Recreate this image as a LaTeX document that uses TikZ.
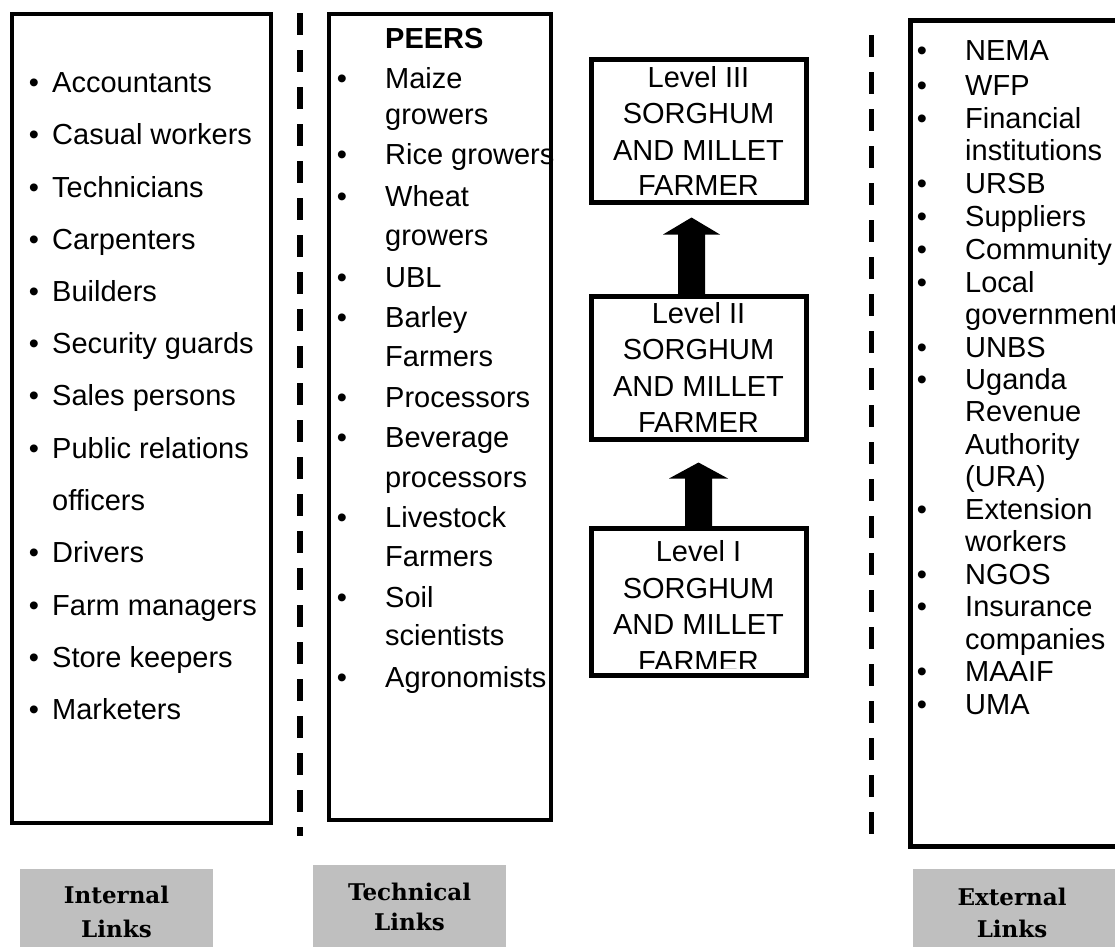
\documentclass[tikz,border=0pt]{standalone}
\usepackage{fontspec}
\setmainfont{Liberation Sans}
\newfontfamily\labfont{DejaVu Serif}
\definecolor{labgray}{HTML}{BFBFBF}
\begin{document}
\begin{tikzpicture}[x=1pt,y=-1pt,
  frame/.style={draw,line width=4pt,inner sep=0pt,fill=white},
  levelbox/.style={draw,line width=5pt,inner sep=0pt,minimum width=215pt},
  item/.style={inner sep=0pt,font=\fontsize{29}{33}\selectfont},
  labtext/.style={inner sep=0pt,anchor=base,font=\labfont\bfseries\fontsize{23}{27}\selectfont},
  labbox/.style={fill=labgray,inner sep=0pt},
  sep/.style={line width=6pt,dash pattern=on 22pt off 15pt},
  blockarrow/.style={fill=black}]
\useasboundingbox (0,0) rectangle (1115,946);
\clip (0,0) rectangle (1115,946);

% separators
\coordinate (s1a) at (300,13); \coordinate (s1b) at (300,836);
\coordinate (s2a) at (871,35); \coordinate (s2b) at (871,836);
\draw[sep] (s1a) -- (s1b);
\draw[sep,line width=5pt] (s2a) -- (s2b);

% frames
\node[frame,minimum width=259pt,minimum height=809pt] (internal) at (141.5,418.5) {};
\node[frame,minimum width=222pt,minimum height=806pt] (technical) at (440,417) {};
\node[frame,line width=5pt,minimum width=222pt,minimum height=826pt] (external) at (1021,433) {};

% internal list
\foreach \t/\y/\b [count=\i] in {Accountants/92/1, Casual workers/144/1, Technicians/197/1,
  Carpenters/249/1, Builders/301/1, Security guards/353/1, Sales persons/405/1,
  Public relations/458/1, officers/510/0, Drivers/562/1, Farm managers/615/1,
  Store keepers/667/1, Marketers/719/1}{
  \node[item,anchor=base west] (in\i) at (52,\y) {\t};
  \ifnum\b=1 \node[item,anchor=base] (inb\i) at (34,\y) {•};\fi
}

% technical list
\node[item,anchor=base west,font=\bfseries\fontsize{29}{33}\selectfont] (peers) at (385,48) {PEERS};
\foreach \t/\y/\b [count=\i] in {Maize/88/1, growers/124/0, Rice growers/164/1, Wheat/206/1,
  growers/245/0, UBL/287/1, Barley/327/1, Farmers/366/0, Processors/407/1, Beverage/447/1,
  processors/487/0, Livestock/527/1, Farmers/566/0, Soil/607/1, scientists/645/0,
  Agronomists/687/1}{
  \node[item,anchor=base west] (te\i) at (385,\y) {\t};
  \ifnum\b=1 \node[item,anchor=base] (teb\i) at (342,\y) {•};\fi
}

% external list
\foreach \t/\y/\b [count=\i] in {NEMA/60/1, WFP/95/1, Financial/128/1, institutions/160/0,
  URSB/193/1, Suppliers/226/1, Community/259/1, Local/292/1, government/324/0, UNBS/357/1,
  Uganda/389/1, Revenue/421/0, Authority/454/0, {(URA)}/486/0, Extension/519/1, workers/551/0,
  NGOS/584/1, Insurance/616/1, companies/649/0, MAAIF/681/1, UMA/714/1}{
  \node[item,anchor=base west] (ex\i) at (965,\y) {\t};
  \ifnum\b=1 \node[item,anchor=base] (exb\i) at (922,\y) {•};\fi
}

% level boxes
\node[levelbox,minimum height=143pt] (l3) at (698.5,131) {};
\node[levelbox,minimum height=143pt] (l2) at (698.5,368) {};
\node[levelbox,minimum height=147pt] (l1) at (698.5,602) {};

\foreach \t/\y [count=\i] in {Level III/87, SORGHUM/123, AND MILLET/160, FARMER/195}{
  \node[item,anchor=base] (l3t\i) at (698.5,\y) {\t};}
\foreach \t/\y [count=\i] in {Level II/323, SORGHUM/359, AND MILLET/396, FARMER/432}{
  \node[item,anchor=base] (l2t\i) at (698.5,\y) {\t};}
\begin{scope}
  \clip (592,530) rectangle (805,668);
  \foreach \t/\y [count=\i] in {Level I/561, SORGHUM/598, AND MILLET/634, FARMER/671}{
    \node[item,anchor=base] (l1t\i) at (698.5,\y) {\t};}
\end{scope}

% block arrows
\fill[blockarrow] ([xshift=-20.5pt]l2.north) |- ([xshift=-35.5pt,yshift=-29.5pt]l3.south)
  -- ([xshift=-7pt,yshift=-12.5pt]l3.south) -- ([xshift=21.5pt,yshift=-29.5pt]l3.south)
  -| ([xshift=6.5pt]l2.north) -- cycle;
\fill[blockarrow] ([xshift=-13.5pt]l1.north) |- ([xshift=-29.5pt,yshift=-36.5pt]l2.south)
  -- ([yshift=-20.5pt]l2.south) -- ([xshift=29.5pt,yshift=-36.5pt]l2.south)
  -| ([xshift=13.5pt]l1.north) -- cycle;

% bottom labels
\node[labbox,minimum width=193pt,minimum height=91pt] (gint) at (116.5,914.5) {};
\node[labbox,minimum width=193pt,minimum height=95pt] (gtech) at (409.5,912.5) {};
\node[labbox,minimum width=212pt,minimum height=91pt] (gext) at (1019,914.5) {};
\node[labtext] (gint1) at (116.5,903) {Internal};
\node[labtext] (gint2) at (116.5,937) {Links};
\node[labtext] (gtech1) at (409.5,900) {Technical};
\node[labtext] (gtech2) at (409.5,930) {Links};
\node[labtext] (gext1) at (1012,905) {External};
\node[labtext] (gext2) at (1012,937) {Links};
\end{tikzpicture}
\end{document}
